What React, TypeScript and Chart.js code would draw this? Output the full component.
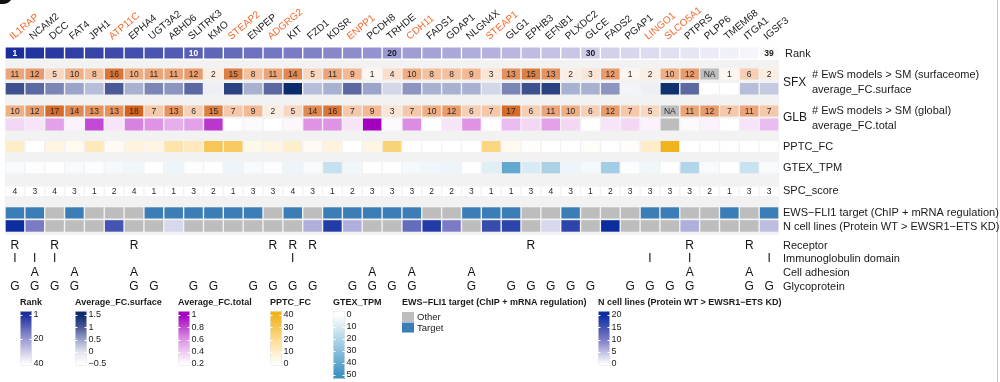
import React, { useEffect, useRef } from 'react';
import { Chart, registerables } from 'chart.js';

Chart.register(...registerables);

// ---------------- DATA ----------------
const genes = ['IL1RAP','NCAM2','DCC','FAT4','JPH1','ATP11C','EPHA4','UGT3A2','ABHD6','SLITRK3','KMO','STEAP2','ENPEP','ADGRG2','KIT','FZD1','KDSR','ENPP1','PCDH8','TRHDE','CDH11','FADS1','GDAP1','NLGN4X','STEAP1','GLG1','EPHB3','EFNB1','PLXDC2','GLCE','FADS2','PGAP1','LINGO1','SLCO5A1','PTPRS','PLPP6','TMEM68','ITGA1','IGSF3'];
const highlightedGenes = ['IL1RAP','ATP11C','STEAP2','ADGRG2','ENPP1','CDH11','STEAP1','LINGO1','SLCO5A1'];
const rankValues = [1,2,3,4,5,6,7,8,9,10,11,12,13,14,15,16,17,18,19,20,21,22,23,24,25,26,27,28,29,30,31,32,33,34,35,36,37,38,39];
const rankShown = [1,10,20,30,39];
const sfxCounts = [11,12,5,10,8,16,10,11,11,12,2,15,8,11,14,5,11,9,1,4,10,8,8,9,3,13,15,13,2,3,12,1,2,10,12,null,1,6,2];
const surfaceFC = [1.1,0.9,0.7,0.5,0.3,1.0,0.4,0.7,0.6,0.9,-0.2,1.25,0.4,0.9,1.5,0.3,0.4,0.9,0.5,0.1,0.6,0.4,0.4,0.4,0.1,0.7,1.1,1.25,0.4,0.4,0.6,-0.3,-0.2,1.45,0.9,null,-0.5,0.3,0.2];
const glbCounts = [10,12,17,14,13,13,18,7,13,6,15,7,9,2,5,14,16,7,9,3,7,10,12,6,7,17,6,11,10,6,12,7,5,null,11,12,7,11,7];
const totalFC = [0.35,0.3,0.55,0.25,0.8,0.3,0.65,0.6,0.5,0.55,0.85,0.2,0.22,0.2,0.23,0.6,0.6,0.3,1.0,0.22,0.62,0.2,0.3,0.6,0.2,0.45,0.35,0.55,0.35,0.2,0.3,0.35,0.25,null,0.22,0.25,0.2,0.3,0.45];
const pptcFC = [10,0,5,3,12,2,6,5,15,12,30,28,4,5,9,2,6,0,5,24,0,0,0,0,22,3,1,0,0,1,0,1,10,40,0,0,0,0,0];
const gtexTPM = [2,1,0,2,1,3,4,0,5,1,0,5,2,1,5,2,15,4,0,0,3,4,5,0,8,40,10,22,5,3,24,1,4,0,20,2,0,14,2];
const spcScore = [4,3,4,3,1,2,4,1,1,3,2,1,3,3,4,3,1,2,3,3,3,2,2,3,1,1,3,4,3,1,2,3,3,3,3,2,1,3,3];
const ewsTarget = [1,1,0,1,0,0,0,1,1,1,1,1,1,0,1,0,1,1,1,1,1,0,0,1,1,1,0,0,1,0,0,0,1,1,0,0,1,0,1];
const nCellLines = [20,10,null,null,null,15,null,null,3,null,null,null,null,null,null,6,18,6,null,null,12,18,10,null,16,17,null,3,17,null,20,null,null,null,6,null,null,null,5];
const receptor = [1,0,1,0,0,0,1,0,0,0,0,0,0,1,1,1,0,0,0,0,0,0,0,0,0,0,1,0,0,0,0,0,0,0,1,0,0,1,0];
const immunoglobulin = [1,1,1,0,0,0,0,0,0,0,0,0,0,0,1,0,0,0,0,0,0,0,0,0,0,0,0,0,0,0,0,0,1,0,1,0,0,0,1];
const adhesion = [0,1,0,1,0,0,1,0,0,0,0,0,0,0,0,0,0,0,1,0,1,0,0,1,0,0,0,0,0,0,0,0,0,0,1,0,0,1,0];
const glycoprotein = [1,1,1,1,0,0,1,1,0,1,1,0,1,1,1,1,0,1,1,1,1,0,0,1,0,1,1,1,1,1,0,1,1,1,1,0,0,1,1];

const rankTicks = [1,20,40];
const surfaceTicks = [1.5,1,0.5,0,-0.5];
const totalTicks = [1,0.8,0.6,0.4,0.2];
const pptcTicks = [40,30,20,10,0];
const gtexTicks = [0,10,20,30,40,50];
const ncellTicks = [20,15,10,5,0];
const ewsLegendLabels = ['Other','Target'];

// ---------------- STYLE ----------------
type Stops = [number, string][];
const rankStops: Stops = [[1,'#1b2e9c'],[20,'#9b98d2'],[40,'#ffffff']];
const countStops: Stops = [[0,'#ffffff'],[2,'#fcede3'],[9,'#f4b892'],[18,'#d2621c']];
const surfaceStops: Stops = [[-0.5,'#ffffff'],[0,'#e1e4ef'],[0.5,'#9ba4ca'],[1,'#4b5997'],[1.5,'#0a2b6c']];
const totalStops: Stops = [[0.2,'#ffffff'],[0.6,'#de93e5'],[1,'#a400c0']];
const pptcStops: Stops = [[0,'#ffffff'],[20,'#fcdb8e'],[40,'#efb31c']];
const gtexStops: Stops = [[0,'#ffffff'],[25,'#9ecbe3'],[50,'#3c93c2']];
const ncellStops: Stops = [[0,'#ffffff'],[10,'#7b7ac5'],[20,'#0b2d9f']];
const TARGET = '#3b7db7';
const OTHER = '#bdbdbd';
const NA = '#bdbdbd';
const FONT = '"Liberation Sans", Arial, Helvetica, sans-serif';

function hexToRgb(h: string): number[] {
  const n = parseInt(h.slice(1), 16);
  return [(n >> 16) & 255, (n >> 8) & 255, n & 255];
}
function colorFor(stops: Stops, v: number | null, na = NA): string {
  if (v === null || v === undefined) return na;
  if (v <= stops[0][0]) return stops[0][1];
  if (v >= stops[stops.length - 1][0]) return stops[stops.length - 1][1];
  for (let i = 0; i < stops.length - 1; i++) {
    const [a, ca] = stops[i];
    const [b, cb] = stops[i + 1];
    if (v >= a && v <= b) {
      const t = (v - a) / (b - a);
      const A = hexToRgb(ca), B = hexToRgb(cb);
      const c = A.map((x, k) => Math.round(x + (B[k] - x) * t));
      return `rgb(${c[0]},${c[1]},${c[2]})`;
    }
  }
  return na;
}

// row layout (y in page pixels via linear y scale)
const rowLayout: Record<string, [number, number]> = {
  rank: [47.5, 58.5],
  sfx: [68.5, 79.5],
  surface: [83, 94.5],
  glb: [105.5, 116.5],
  total: [118.5, 130.5],
  pptc: [141, 152],
  gtex: [162, 173.3],
  spc: [186.5, 196],
  ews: [207.3, 218.5],
  ncell: [220.2, 231.7],
};

export default function App() {
  const ref = useRef<HTMLCanvasElement | null>(null);
  useEffect(() => {
    if (!ref.current) return;
    const rowColors: Record<string, string[]> = {
      rank: rankValues.map(v => colorFor(rankStops, v)),
      sfx: sfxCounts.map(v => colorFor(countStops, v)),
      surface: surfaceFC.map(v => colorFor(surfaceStops, v, '#ffffff')),
      glb: glbCounts.map(v => colorFor(countStops, v)),
      total: totalFC.map(v => colorFor(totalStops, v)),
      pptc: pptcFC.map(v => colorFor(pptcStops, v)),
      gtex: gtexTPM.map(v => colorFor(gtexStops, v)),
      spc: spcScore.map(() => '#ffffff'),
      ews: ewsTarget.map(v => (v ? TARGET : OTHER)),
      ncell: nCellLines.map(v => colorFor(ncellStops, v)),
    };
    const datasets = Object.keys(rowLayout).map(key => ({
      label: key,
      data: genes.map(() => rowLayout[key]),
      backgroundColor: rowColors[key],
      borderWidth: 0,
      barPercentage: 0.93,
      categoryPercentage: 1,
      grouped: false,
    }));

    const txt = (ctx: CanvasRenderingContext2D, s: string, x: number, y: number, font: string, color: string, align: CanvasTextAlign = 'center') => {
      ctx.font = font; ctx.fillStyle = color; ctx.textAlign = align; ctx.textBaseline = 'middle';
      ctx.fillText(s, x, y);
    };

    const background = {
      id: 'bgband',
      beforeDatasetsDraw(chart: any) {
        const { ctx, chartArea, scales } = chart;
        ctx.save();
        ctx.fillStyle = '#f2f2f2';
        const y0 = scales.y.getPixelForValue(60), y1 = scales.y.getPixelForValue(235);
        ctx.fillRect(chartArea.left, y0, chartArea.right - chartArea.left, y1 - y0);
        ctx.restore();
      },
    };

    const overlay = {
      id: 'overlay',
      afterDatasetsDraw(chart: any) {
        const { ctx, scales } = chart;
        const xs = scales.x, ys = scales.y;
        const cx = (i: number) => xs.getPixelForValue(i);
        const mid = (k: string) => ys.getPixelForValue((rowLayout[k][0] + rowLayout[k][1]) / 2);
        ctx.save();
        // decorations
        ctx.fillStyle = '#111';
        ctx.beginPath(); ctx.moveTo(0, 0); ctx.lineTo(11, 0); ctx.quadraticCurveTo(8, 4, 3, 4); ctx.lineTo(0, 4); ctx.fill();
        ctx.strokeStyle = '#c9c9c9'; ctx.lineWidth = 1;
        ctx.beginPath(); ctx.moveTo(997.5, 0); ctx.lineTo(997.5, 382); ctx.stroke();

        // gene labels
        genes.forEach((g, i) => {
          ctx.save();
          ctx.translate(cx(i) - 2, ys.getPixelForValue(40));
          ctx.rotate(-40 * Math.PI / 180);
          ctx.font = `10px ${FONT}`;
          ctx.fillStyle = highlightedGenes.includes(g) ? '#f26a2e' : '#1a1a1a';
          ctx.textAlign = 'left'; ctx.textBaseline = 'alphabetic';
          ctx.fillText(g, 0, 0);
          ctx.restore();
        });
        // rank numbers
        rankValues.forEach((v, i) => {
          if (rankShown.includes(v)) txt(ctx, String(v), cx(i), mid('rank') + 0.5, `bold 8.5px ${FONT}`, v <= 12 ? '#ffffff' : '#1a1a1a');
        });
        sfxCounts.forEach((v, i) => txt(ctx, v === null ? 'NA' : String(v), cx(i), mid('sfx') + 0.5, `8.5px ${FONT}`, '#2a2a2a'));
        glbCounts.forEach((v, i) => txt(ctx, v === null ? 'NA' : String(v), cx(i), mid('glb') + 0.5, `8.5px ${FONT}`, '#2a2a2a'));
        spcScore.forEach((v, i) => txt(ctx, String(v), cx(i), mid('spc') + 0.5, `8.5px ${FONT}`, '#2a2a2a'));

        // annotation letters
        const ann: [number[], string, number, string][] = [
          [receptor, 'R', 246, 'Receptor'],
          [immunoglobulin, 'I', 259, 'Immunoglobulin domain'],
          [adhesion, 'A', 272.5, 'Cell adhesion'],
          [glycoprotein, 'G', 287, 'Glycoprotein'],
        ];
        ann.forEach(([arr, letter, y, name]) => {
          arr.forEach((v, i) => { if (v) txt(ctx, letter, cx(i), ys.getPixelForValue(y), `12px ${FONT}`, '#111'); });
          txt(ctx, name, 783, ys.getPixelForValue(y), `11px ${FONT}`, '#1a1a1a', 'left');
        });

        // right labels
        const R = 783, R2 = 812;
        const lf = `11px ${FONT}`;
        txt(ctx, 'Rank', R + 2, mid('rank') + 0.5, lf, '#1a1a1a', 'left');
        txt(ctx, 'SFX', R, 82.5, `12px ${FONT}`, '#1a1a1a', 'left');
        txt(ctx, '# EwS models > SM (surfaceome)', R2, 75, lf, '#1a1a1a', 'left');
        txt(ctx, 'average_FC.surface', R2, 90, lf, '#1a1a1a', 'left');
        txt(ctx, 'GLB', R, 117.5, `12px ${FONT}`, '#1a1a1a', 'left');
        txt(ctx, '# EwS models > SM (global)', R2, 111, lf, '#1a1a1a', 'left');
        txt(ctx, 'average_FC.total', R2, 125.5, lf, '#1a1a1a', 'left');
        txt(ctx, 'PPTC_FC', R, mid('pptc'), lf, '#1a1a1a', 'left');
        txt(ctx, 'GTEX_TPM', R, mid('gtex'), lf, '#1a1a1a', 'left');
        txt(ctx, 'SPC_score', R, mid('spc'), lf, '#1a1a1a', 'left');
        txt(ctx, 'EWS\u2212FLI1 target (ChIP + mRNA regulation)', R, mid('ews'), lf, '#1a1a1a', 'left');
        txt(ctx, 'N cell lines (Protein WT > EWSR1\u2212ETS KD)', R, mid('ncell') + 1, lf, '#1a1a1a', 'left');

        // legends
        const legends: { title: string; x: number; top: number; bottom: number; tTop: number; tBot: number; ticks: number[]; stops: Stops }[] = [
          { title: 'Rank', x: 20, top: 311, bottom: 366, tTop: 315, tBot: 364, ticks: rankTicks, stops: rankStops },
          { title: 'Average_FC.surface', x: 75, top: 311, bottom: 366, tTop: 315, tBot: 364, ticks: surfaceTicks, stops: surfaceStops },
          { title: 'Average_FC.total', x: 178, top: 311, bottom: 366, tTop: 315, tBot: 364, ticks: totalTicks, stops: totalStops },
          { title: 'PPTC_FC', x: 270, top: 311, bottom: 366, tTop: 315, tBot: 364, ticks: pptcTicks, stops: pptcStops },
          { title: 'GTEX_TPM', x: 333, top: 311, bottom: 379, tTop: 315, tBot: 375, ticks: gtexTicks, stops: gtexStops },
          { title: 'N cell lines (Protein WT > EWSR1\u2212ETS KD)', x: 598, top: 311, bottom: 366, tTop: 315, tBot: 364, ticks: ncellTicks, stops: ncellStops },
        ];
        const W = 12;
        legends.forEach(L => {
          txt(ctx, L.title, L.x, 303, `bold 9px ${FONT}`, '#1a1a1a', 'left');
          const v0 = L.ticks[0], v1 = L.ticks[L.ticks.length - 1];
          const posOf = (v: number) => L.tTop + (v - v0) / (v1 - v0) * (L.tBot - L.tTop);
          const grad = ctx.createLinearGradient(0, L.top, 0, L.bottom);
          const samples = 24;
          for (let s = 0; s <= samples; s++) {
            const yy = L.top + (L.bottom - L.top) * s / samples;
            let v = v0 + (yy - L.tTop) / (L.tBot - L.tTop) * (v1 - v0);
            grad.addColorStop(s / samples, colorFor(L.stops, v));
          }
          ctx.fillStyle = grad;
          ctx.fillRect(L.x, L.top, W, L.bottom - L.top);
          ctx.strokeStyle = '#e6e6e6'; ctx.lineWidth = 0.6;
          ctx.strokeRect(L.x + 0.3, L.top + 0.3, W - 0.6, L.bottom - L.top - 0.6);
          ctx.strokeStyle = '#ffffff'; ctx.lineWidth = 1;
          L.ticks.forEach(t => {
            const yy = Math.round(posOf(t)) + 0.5;
            ctx.beginPath(); ctx.moveTo(L.x, yy); ctx.lineTo(L.x + 2.5, yy); ctx.moveTo(L.x + W - 2.5, yy); ctx.lineTo(L.x + W, yy); ctx.stroke();
            const label = t < 0 ? '\u2212' + String(Math.abs(t)) : String(t);
            txt(ctx, label, L.x + W + 1.5, posOf(t), `9px ${FONT}`, '#1a1a1a', 'left');
          });
        });
        // EWS discrete legend
        txt(ctx, 'EWS\u2212FLI1 target (ChIP + mRNA regulation)', 402, 303, `bold 9px ${FONT}`, '#1a1a1a', 'left');
        [OTHER, TARGET].forEach((c, k) => {
          ctx.fillStyle = c;
          ctx.fillRect(402, 312 + k * 10.5, 12, 10);
          txt(ctx, ewsLegendLabels[k], 417, 317.5 + k * 10.5, `9.5px ${FONT}`, '#1a1a1a', 'left');
        });
        ctx.restore();
      },
    };

    const chart = new Chart(ref.current, {
      type: 'bar',
      data: { labels: genes, datasets: datasets as any },
      options: {
        responsive: false,
        maintainAspectRatio: false,
        animation: false,
        events: [],
        layout: { padding: { left: 5, right: 221, top: 0, bottom: 0 } },
        plugins: { legend: { display: false }, tooltip: { enabled: false } },
        scales: {
          x: { display: false, grid: { display: false } },
          y: { display: false, min: 0, max: 382, reverse: true },
        },
      },
      plugins: [background, overlay],
    });
    return () => chart.destroy();
  }, []);

  return (
    <div style={{ position: 'absolute', left: 0, top: 0, width: 1000, height: 382, background: '#fff' }}>
      <canvas ref={ref} width={1000} height={382} style={{ display: 'block', width: 1000, height: 382 }} />
    </div>
  );
}
